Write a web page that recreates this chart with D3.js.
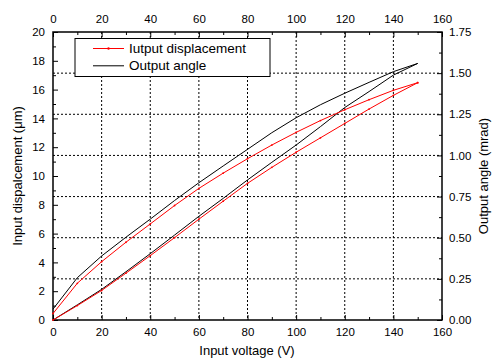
<!DOCTYPE html>
<html><head><meta charset="utf-8">
<script src="https://cdn.jsdelivr.net/npm/d3@7"></script>
<style>body{margin:0;background:#fff}svg{display:block}text{font-family:"Liberation Sans",Arial,sans-serif}</style>
</head><body>
<svg id="c" width="493" height="362"></svg>
<script>
const voltage = [0,10,20,30,40,50,60,70,80,90,100,110,120,130,140,150];
// Input displacement (µm), rising branch and falling branch
const dispUp   = [0,1.0,2.05,3.25,4.47,5.72,7.0,8.25,9.49,10.6,11.65,12.65,13.65,14.65,15.6,16.48];
const dispDown = [0.45,2.55,4.05,5.4,6.67,7.95,9.14,10.2,11.2,12.15,13.03,13.85,14.6,15.3,15.95,16.48];
// Output angle (mrad), rising and falling branch
const angleUp   = [0,0.092,0.186,0.293,0.403,0.516,0.630,0.739,0.851,0.958,1.063,1.175,1.291,1.388,1.488,1.559];
const angleDown = [0.066,0.257,0.389,0.503,0.613,0.726,0.834,0.936,1.037,1.138,1.229,1.308,1.378,1.444,1.509,1.559];
const xTicks = [0,20,40,60,80,100,120,140,160];
const yLeftTicks = [0,2,4,6,8,10,12,14,16,18,20];
const yRightTicks = [0,0.25,0.5,0.75,1.0,1.25,1.5,1.75];
const legendLabels = ["Iutput displacement","Output angle"];

(function(){
const svg = d3.select("#c");
const L=53, R=442, T=32, B=320;
const x = d3.scaleLinear().domain([0,160]).range([L,R]);
const yL = d3.scaleLinear().domain([0,20]).range([B,T]);
const yR = d3.scaleLinear().domain([0,1.75]).range([B,T]);

// grid
const g = svg.append("g");
xTicks.filter(v=>v>0&&v<160).forEach(v=>{
  g.append("line").attr("x1",x(v)).attr("x2",x(v)).attr("y1",T).attr("y2",B)
   .attr("stroke","#000").attr("stroke-width",1).attr("stroke-dasharray","2,2");
});
yRightTicks.filter(v=>v>0&&v<1.75).forEach(v=>{
  g.append("line").attr("x1",L).attr("x2",R).attr("y1",yR(v)).attr("y2",yR(v))
   .attr("stroke","#000").attr("stroke-width",1).attr("stroke-dasharray","2,2");
});

// axes
const fs = 11.5;
function styleAxis(sel){
  sel.select(".domain").remove();
  sel.selectAll("line").attr("stroke","#000").attr("stroke-width",1);
  sel.selectAll("text").attr("font-size",fs).attr("fill","#000");
}
const minorX = d3.range(10,160,20);
const axB = svg.append("g").attr("transform",`translate(0,${B})`)
  .call(d3.axisBottom(x).tickValues(xTicks).tickSizeInner(-5).tickSizeOuter(0).tickPadding(8).tickFormat(d3.format("d")));
styleAxis(axB);
const axBm = svg.append("g").attr("transform",`translate(0,${B})`)
  .call(d3.axisBottom(x).tickValues(minorX).tickSizeInner(-3).tickSizeOuter(0).tickFormat(""));
styleAxis(axBm);
const axT = svg.append("g").attr("transform",`translate(0,${T})`)
  .call(d3.axisTop(x).tickValues(xTicks).tickSizeInner(-5).tickSizeOuter(0).tickPadding(9).tickFormat(d3.format("d")));
styleAxis(axT);
const axTm = svg.append("g").attr("transform",`translate(0,${T})`)
  .call(d3.axisTop(x).tickValues(minorX).tickSizeInner(-3).tickSizeOuter(0).tickFormat(""));
styleAxis(axTm);
const axL = svg.append("g").attr("transform",`translate(${L},0)`)
  .call(d3.axisLeft(yL).tickValues(yLeftTicks).tickSizeInner(-5).tickSizeOuter(0).tickPadding(8).tickFormat(d3.format("d")));
styleAxis(axL);
const axLm = svg.append("g").attr("transform",`translate(${L},0)`)
  .call(d3.axisLeft(yL).tickValues(d3.range(1,20,2)).tickSizeInner(-3).tickSizeOuter(0).tickFormat(""));
styleAxis(axLm);
const axR = svg.append("g").attr("transform",`translate(${R},0)`)
  .call(d3.axisRight(yR).tickValues(yRightTicks).tickSizeInner(-5).tickSizeOuter(0).tickPadding(7).tickFormat(d3.format(".2f")));
styleAxis(axR);
const axRm = svg.append("g").attr("transform",`translate(${R},0)`)
  .call(d3.axisRight(yR).tickValues(d3.range(0.125,1.75,0.25)).tickSizeInner(-3).tickSizeOuter(0).tickFormat(""));
styleAxis(axRm);

// frame
svg.append("rect").attr("x",L).attr("y",T).attr("width",R-L).attr("height",B-T)
  .attr("fill","none").attr("stroke","#000").attr("stroke-width",1.5);

// lines
const idx = d3.range(voltage.length);
const rev = idx.slice().reverse();
const lineDisp = d3.line().x(d=>x(d.v)).y(d=>yL(d.y));
const lineAng = d3.line().x(d=>x(d.v)).y(d=>yR(d.y));
const dispPts = idx.map(i=>({v:voltage[i],y:dispUp[i]})).concat(rev.map(i=>({v:voltage[i],y:dispDown[i]})));
const angPts = idx.map(i=>({v:voltage[i],y:angleUp[i]})).concat(rev.map(i=>({v:voltage[i],y:angleDown[i]})));
svg.append("path").datum(angPts).attr("d",lineAng).attr("fill","none").attr("stroke","#000").attr("stroke-width",1);
svg.append("path").datum(dispPts).attr("d",lineDisp).attr("fill","none").attr("stroke","#ff0000").attr("stroke-width",1);
svg.selectAll("circle.rd").data(dispPts).enter().append("circle").attr("class","rd")
  .attr("cx",d=>x(d.v)).attr("cy",d=>yL(d.y)).attr("r",0.9).attr("fill","#ff0000");

// legend
const lg = svg.append("g");
lg.append("rect").attr("x",75).attr("y",38.5).attr("width",195).attr("height",38)
  .attr("fill","#fff").attr("stroke","#000").attr("stroke-width",1);
const lColors = ["#ff0000","#000"];
legendLabels.forEach((t,i)=>{
  const yy = 48.5 + i*17.3;
  lg.append("line").attr("x1",93).attr("x2",124).attr("y1",yy).attr("y2",yy).attr("stroke",lColors[i]).attr("stroke-width",1);
  if(i===0) lg.append("circle").attr("cx",108.5).attr("cy",yy).attr("r",1.2).attr("fill","#ff0000");
  lg.append("text").attr("x",129).attr("y",yy+4.6).attr("font-size",13.5).attr("fill","#000").text(t);
});

// titles
svg.append("text").attr("x",247).attr("y",355).attr("text-anchor","middle").attr("font-size",13).text("Input voltage (V)");
svg.append("text").attr("transform","translate(22,176) rotate(-90)").attr("text-anchor","middle").attr("font-size",13).text("Input dispalcement (\u03bcm)");
svg.append("text").attr("transform","translate(488,176) rotate(-90)").attr("text-anchor","middle").attr("font-size",13).text("Output angle (mrad)");
})();
</script>
</body></html>
